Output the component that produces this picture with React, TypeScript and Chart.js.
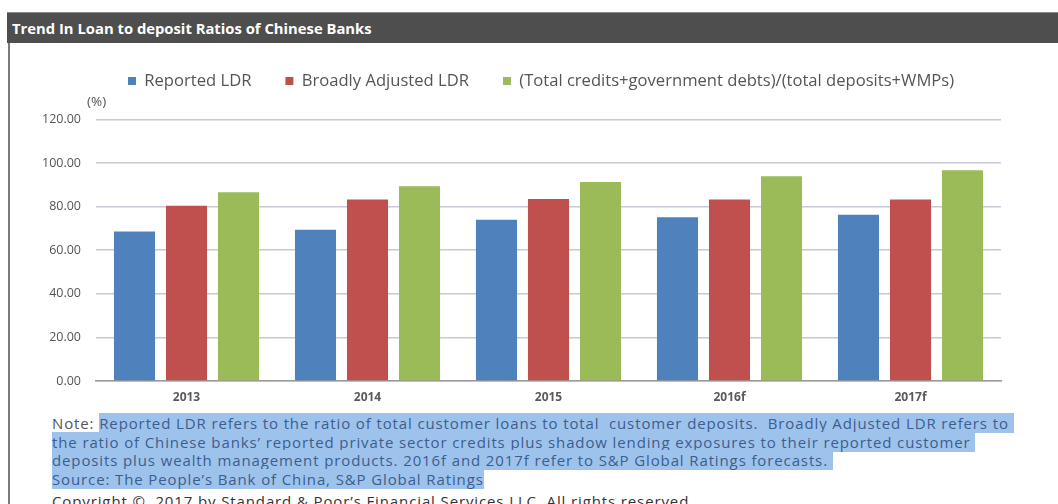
import React, { useEffect, useRef } from "react";
import { Chart, registerables } from "chart.js";

Chart.register(...registerables);

const categories = ["2013", "2014", "2015", "2016f", "2017f"];
const seriesNames = [
  "Reported LDR",
  "Broadly Adjusted LDR",
  "(Total credits+government debts)/(total deposits+WMPs)",
];
const reportedLDR = [68.6, 69.4, 74.0, 75.1, 76.3];
const broadlyAdjustedLDR = [80.4, 83.2, 83.5, 83.2, 83.2];
const totalCreditsRatio = [86.6, 89.3, 91.3, 93.9, 96.7];
const seriesColors = ["#4f81bd", "#c0504d", "#9bbb59"];
const yMin = 0;
const yMax = 120;
const yStep = 20;

const titleText = "Trend In Loan to deposit Ratios of Chinese Banks";
const unitLabel = "(%)";
const noteLines: { plain: string; highlighted: string }[] = [
  {
    plain: "Note: ",
    highlighted:
      "Reported LDR refers to the ratio of total customer loans to total  customer deposits.  Broadly Adjusted LDR refers to ",
  },
  {
    plain: "",
    highlighted:
      "the ratio of Chinese banks\u2019 reported private sector credits plus shadow lending exposures to their reported customer ",
  },
  {
    plain: "",
    highlighted:
      "deposits plus wealth management products. 2016f and 2017f refer to S&P Global Ratings forecasts. ",
  },
  { plain: "", highlighted: "Source: The People\u2019s Bank of China, S&P Global Ratings" },
];
const copyrightText =
  "Copyright \u00a9  2017 by Standard & Poor\u2019s Financial Services LLC. All rights reserved.";

const FONT = "'Open Sans', 'DejaVu Sans', sans-serif";
const LEGEND_FONT_SIZE = 16.6;
const LEGEND_CENTER_Y = 36; // canvas coords
const LEGEND_FIRST_X = 128;
const LEGEND_PAD = 34;

export default function App() {
  const canvasRef = useRef<HTMLCanvasElement | null>(null);

  useEffect(() => {
    const canvas = canvasRef.current;
    if (!canvas) return;
    const legendTweak = {
      id: "legendTweak",
      beforeLayout(chart: any) {
        const lg = chart.legend;
        if (lg && !lg.__patched) {
          const orig = lg.fit.bind(lg);
          lg.fit = function () {
            orig();
            this.height = 74.4;
          };
          lg.__patched = true;
        }
      },
      afterLayout(chart: any) {
        const lg = chart.legend;
        if (!lg) return;
        lg.top = LEGEND_CENTER_Y - LEGEND_PAD - LEGEND_FONT_SIZE / 2;
        const cur = (lg.left + LEGEND_PAD + lg.right - lg.lineWidths[0]) / 2;
        const dx = LEGEND_FIRST_X - cur;
        lg.left += dx;
        lg.right += dx;
      },
    };

    const chart = new Chart(canvas, {
      type: "bar",
      data: {
        labels: categories,
        datasets: [
          { label: seriesNames[0], data: reportedLDR, backgroundColor: seriesColors[0] },
          { label: seriesNames[1], data: broadlyAdjustedLDR, backgroundColor: seriesColors[1] },
          { label: seriesNames[2], data: totalCreditsRatio, backgroundColor: seriesColors[2] },
        ],
      },
      options: {
        animation: false,
        responsive: false,
        maintainAspectRatio: false,
        datasets: { bar: { categoryPercentage: 0.862, barPercentage: 0.79 } },
        layout: { padding: { left: 10, right: 57, top: 0, bottom: 0 } },
        plugins: {
          legend: {
            position: "top",
            labels: {
              boxWidth: 8,
              boxHeight: 8,
              padding: LEGEND_PAD,
              color: "#555555",
              font: { family: FONT, size: LEGEND_FONT_SIZE },
            },
          },
          tooltip: { enabled: false },
        },
        scales: {
          x: {
            grid: { display: false, drawTicks: false },
            border: { display: true, color: "#9a9a9a", width: 1.5 },
            ticks: {
              color: "#5a5a5a",
              padding: 9,
              font: { family: FONT, size: 12, weight: "bold" },
            },
            afterFit: (s: any) => {
              s.height = 29;
            },
          },
          y: {
            min: yMin,
            max: yMax,
            ticks: {
              stepSize: yStep,
              color: "#555555",
              padding: 15,
              font: { family: FONT, size: 12.5 },
              callback: (v: any) => Number(v).toFixed(2),
            },
            grid: { color: "#c7cad6", lineWidth: 1.5, drawTicks: false },
            border: { display: false },
            afterFit: (s: any) => {
              s.width = 86;
            },
          },
        },
      },
      plugins: [legendTweak],
    } as any);
    return () => chart.destroy();
  }, []);

  return (
    <div
      style={{
        position: "fixed",
        left: 0,
        top: 0,
        width: 1058,
        height: 504,
        background: "#ffffff",
        overflow: "hidden",
        fontFamily: FONT,
      }}
    >
      <div
        style={{
          position: "absolute",
          left: 7,
          top: 12,
          width: 1051,
          height: 31,
          background: "#4e4e4e",
          borderTop: "1px solid #8a8a8a",
          boxSizing: "border-box",
        }}
      >
        <div
          style={{
            position: "absolute",
            left: 5,
            top: 0,
            lineHeight: "30px",
            color: "#ffffff",
            fontWeight: 700,
            fontSize: 14.8,
            whiteSpace: "nowrap",
          }}
        >
          {titleText}
        </div>
      </div>
      <div
        style={{
          position: "absolute",
          left: 8,
          top: 43,
          width: 2,
          height: 461,
          background: "#7a7a7a",
        }}
      />
      <canvas
        ref={canvasRef}
        width={1058}
        height={365}
        style={{ position: "absolute", left: 0, top: 45, width: 1058, height: 365 }}
      />
      <div
        style={{
          position: "absolute",
          left: 87,
          top: 92,
          fontSize: 13.5,
          color: "#555555",
          lineHeight: "18px",
        }}
      >
        {unitLabel}
      </div>
      {noteLines.map((ln, i) => (
        <div
          key={i}
          style={{
            position: "absolute",
            left: 52,
            top: 414 + i * 18.5,
            height: 18,
            lineHeight: "18px",
            fontSize: 15,
            letterSpacing: "0.88px",
            whiteSpace: "pre",
            color: "#555555",
          }}
        >
          {ln.plain}
          <span style={{ background: "#9dc3ec", color: "#3d5d8e" }}>{ln.highlighted}</span>
        </div>
      ))}
      <div
        style={{
          position: "absolute",
          left: 52,
          top: 492,
          lineHeight: "18px",
          fontSize: 15,
          letterSpacing: "0.88px",
          whiteSpace: "pre",
          color: "#333333",
        }}
      >
        {copyrightText}
      </div>
    </div>
  );
}
